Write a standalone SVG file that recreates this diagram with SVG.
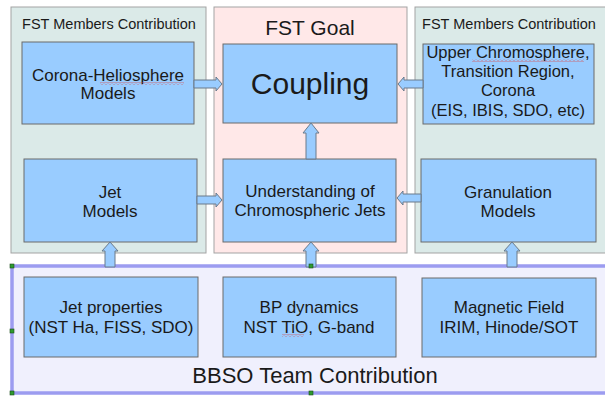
<svg xmlns="http://www.w3.org/2000/svg" width="605" height="399" viewBox="0 0 605 399">
<defs>
<style>
.panelT{fill:#dbeae8;stroke:#a3a3a3;stroke-width:1}
.panelP{fill:#ffe8e8;stroke:#a3a3a3;stroke-width:1}
.box{fill:#99ccff;stroke:#6b6b6b;stroke-width:1}
.arr{fill:#99ccff;stroke:#6b7b8b;stroke-width:1}
.t{font-family:"Liberation Sans",Arial,sans-serif;fill:#1a1a1a;text-anchor:middle}
.h{fill:#2e9a2e;stroke:#1a4a1a;stroke-width:0.6}
</style>
<pattern id="squig" x="0" y="0" width="4" height="3" patternUnits="userSpaceOnUse">
<path d="M0,2.5 L2,0.5 L4,2.5" fill="none" stroke="#d84848" stroke-width="0.7"/>
</pattern>
</defs>
<rect x="0" y="0" width="605" height="399" fill="#ffffff"/>

<g id="panel-left">
<rect class="panelT" x="11" y="7" width="195" height="246"/>
<text class="t" x="109" y="29" font-size="14.5">FST Members Contribution</text>
</g>
<g id="panel-goal">
<rect class="panelP" x="214" y="7" width="193" height="246"/>
<text class="t" x="310" y="35" font-size="21">FST Goal</text>
</g>
<g id="panel-right">
<rect class="panelT" x="415" y="7" width="200" height="246"/>
<text class="t" x="509" y="29" font-size="14.5">FST Members Contribution</text>
</g>
<g id="panel-bbso">
<rect x="12" y="266" width="600" height="127" fill="#f0f0fd" stroke="#9c9cf0" stroke-width="3.5"/>
<text class="t" x="315" y="383" font-size="22">BBSO Team Contribution</text>
</g>

<g id="corona-heliosphere">
<rect class="box" x="22" y="42" width="172" height="82"/>
<text class="t" x="108" y="81" font-size="17">Corona-Heliosphere</text>
<text class="t" x="108" y="99" font-size="17">Models</text>
<rect x="100" y="82" width="84" height="3" fill="url(#squig)"/>
</g>
<g id="coupling">
<rect class="box" x="223" y="44" width="174" height="79"/>
<text class="t" x="310" y="94" font-size="30">Coupling</text>
</g>
<g id="upper-chromosphere">
<rect class="box" x="423" y="44" width="171" height="80"/>
<text class="t" x="508" y="58" font-size="16.5">Upper Chromosphere,</text>
<text class="t" x="508" y="77" font-size="16.5">Transition Region,</text>
<text class="t" x="508" y="96" font-size="16.5">Corona</text>
<text class="t" x="508" y="116" font-size="16.5">(EIS, IBIS, SDO, etc)</text>
<rect x="472" y="59" width="112" height="3" fill="url(#squig)"/>
</g>
<g id="jet-models">
<rect class="box" x="24" y="159" width="173" height="83"/>
<text class="t" x="110" y="198" font-size="17">Jet</text>
<text class="t" x="110" y="217" font-size="17">Models</text>
</g>
<g id="understanding">
<rect class="box" x="223" y="159" width="173" height="83"/>
<text class="t" x="310" y="197" font-size="17">Understanding of</text>
<text class="t" x="310" y="216" font-size="17">Chromospheric Jets</text>
</g>
<g id="granulation">
<rect class="box" x="421" y="159" width="175" height="83"/>
<text class="t" x="508" y="198" font-size="17">Granulation</text>
<text class="t" x="508" y="217" font-size="17">Models</text>
</g>
<g id="jet-properties">
<rect class="box" x="24" y="277" width="174" height="80"/>
<text class="t" x="111" y="313" font-size="17">Jet properties</text>
<text class="t" x="111" y="333" font-size="17">(NST Ha, FISS, SDO)</text>
</g>
<g id="bp-dynamics">
<rect class="box" x="223" y="277" width="173" height="80"/>
<text class="t" x="309" y="313" font-size="17">BP dynamics</text>
<text class="t" x="309" y="333" font-size="17">NST TiO, G-band</text>
<rect x="282" y="334" width="22" height="3" fill="url(#squig)"/>
</g>
<g id="magnetic-field">
<rect class="box" x="422" y="278" width="174" height="79"/>
<text class="t" x="509" y="313" font-size="17">Magnetic Field</text>
<text class="t" x="509" y="333" font-size="17">IRIM, Hinode/SOT</text>
</g>

<g id="connectors">
<path class="arr" d="M194,80 H216 V77 L222,84 L216,91 V88 H194 Z"/>
<path class="arr" d="M197,196 H216 V193 L222,200 L216,207 V204 H197 Z"/>
<path class="arr" d="M423,80 H404 V77 L398,84 L404,91 V88 H423 Z"/>
<path class="arr" d="M421,194 H403 V191 L397,198 L403,205 V202 H421 Z"/>
<path class="arr" d="M306,159 V133 H303 L311,123 L319,133 H316 V159 Z"/>
<path class="arr" d="M105,267 V251 H102 L110,242 L118,251 H115 V267 Z"/>
<path class="arr" d="M306,267 V251 H303 L311,242 L319,251 H316 V267 Z"/>
<path class="arr" d="M507,267 V251 H504 L512,242 L520,251 H517 V267 Z"/>
</g>

<g id="handles">
<rect class="h" x="10" y="264" width="4" height="4"/>
<rect class="h" x="10" y="329" width="4" height="4"/>
<rect class="h" x="10" y="391" width="4" height="4"/>
<rect class="h" x="309" y="264" width="4" height="4"/>
<rect class="h" x="309" y="391" width="4" height="4"/>
</g>
</svg>
